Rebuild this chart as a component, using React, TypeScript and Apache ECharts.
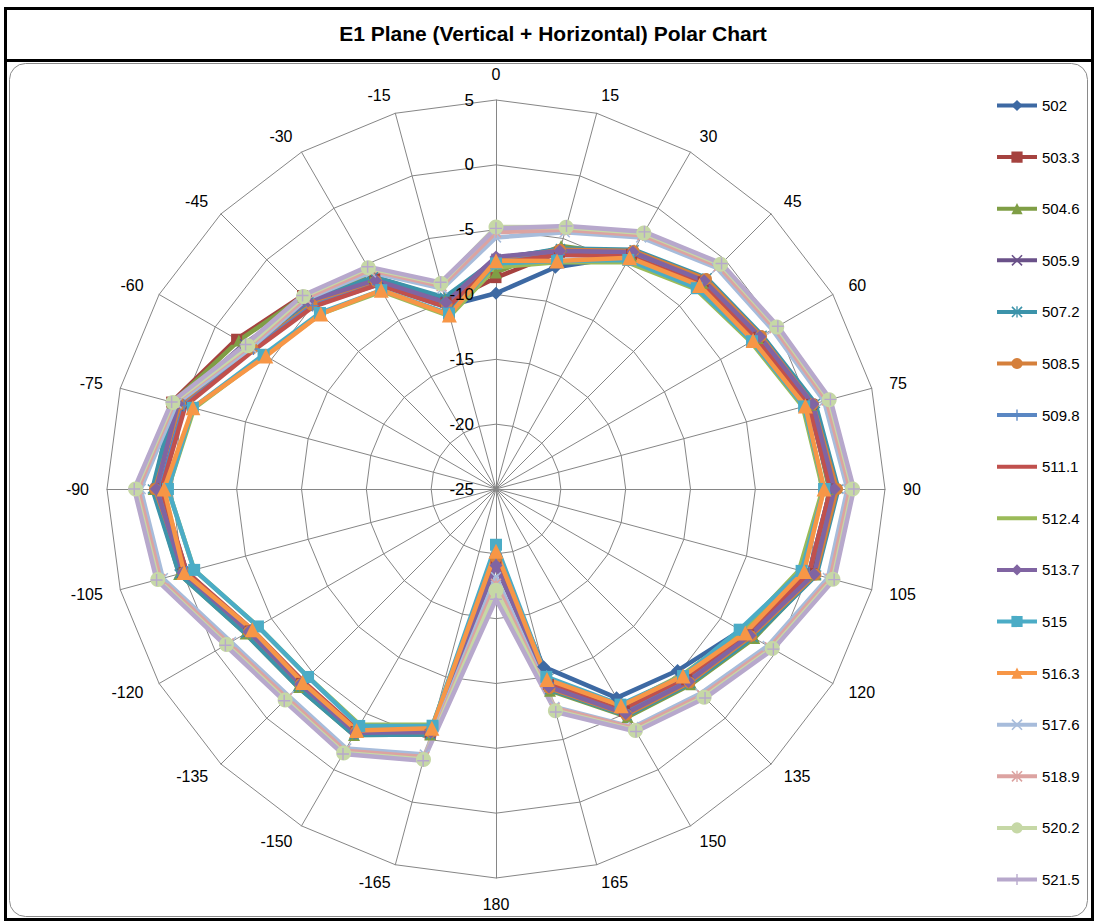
import React, { useEffect, useRef } from 'react';
import * as echarts from 'echarts';

const TITLE = 'E1 Plane (Vertical + Horizontal) Polar Chart';

// Angle labels in clockwise order starting at the top
const ANGLE_LABELS = ['0', '15', '30', '45', '60', '75', '90', '105', '120', '135', '150', '165', '180',
  '-165', '-150', '-135', '-120', '-105', '-90', '-75', '-60', '-45', '-30', '-15'];

const RADIAL_TICKS = [-25, -20, -15, -10, -5, 0, 5];

const SERIES_NAMES = ['502', '503.3', '504.6', '505.9', '507.2', '508.5', '509.8', '511.1',
  '512.4', '513.7', '515', '516.3', '517.6', '518.9', '520.2', '521.5'];

// values per angle, same order as ANGLE_LABELS
const s502 = [-9.9, -7.3, -4.2, -2.6, -1.8, 0.0, 0.8, 0.0, -3.2, -5.2, -6.4, -10.8, -19.8, -5.8, -3.5, -3.9, -3.2, -0.3, 0.9, 0.0, -3.2, -4.9, -6.7, -10.4];
const s503_3 = [-8.7, -6.1, -4.1, -2.4, -1.6, 0.2, 1.0, 0.2, -2.5, -4.2, -5.2, -9.4, -19.6, -5.4, -3.4, -3.8, -3.1, -0.1, 1.2, 0.9, -1.9, -3.9, -6.3, -10.1];
const s504_6 = [-8.3, -5.6, -4.2, -2.5, -1.7, 0.1, 0.7, 0.5, -2.0, -3.7, -4.7, -8.9, -20.0, -5.4, -3.1, -3.4, -2.7, 0.3, 1.4, 0.8, -2.1, -4.0, -6.1, -9.8];
const s505_9 = [-7.2, -5.9, -3.9, -2.2, -1.5, 0.3, 1.2, 0.4, -2.3, -4.0, -5.0, -9.2, -19.4, -5.5, -3.3, -3.6, -2.9, 0.1, 1.3, 0.5, -2.6, -4.4, -6.4, -10.0];
const s507_2 = [-7.3, -5.8, -3.7, -2.0, -1.3, 0.5, 1.4, 0.6, -2.1, -3.8, -4.8, -9.0, -19.5, -5.4, -3.1, -3.4, -2.7, 0.3, 1.5, 0.7, -2.8, -4.6, -6.1, -9.7];
const s508_5 = [-7.4, -5.9, -3.8, -2.1, -1.4, 0.3, 1.3, 0.5, -2.3, -3.9, -4.9, -9.1, -19.7, -5.6, -3.4, -3.7, -3.0, -0.1, 1.3, 0.2, -3.3, -4.9, -6.5, -10.3];
const s509_8 = [-7.5, -6.3, -4.2, -2.6, -1.8, 0.0, 0.8, 0.0, -2.7, -4.3, -5.3, -9.5, -19.9, -5.8, -3.5, -3.9, -3.2, -0.3, 0.9, -0.1, -3.4, -5.0, -6.8, -10.5];
const s511_1 = [-7.6, -6.3, -4.3, -2.6, -1.8, 0.0, 0.8, 0.0, -2.7, -4.4, -5.4, -9.6, -19.9, -5.8, -3.6, -4.0, -3.3, -0.3, 0.8, -0.2, -3.5, -5.1, -6.8, -10.5];
const s512_4 = [-7.9, -6.9, -4.8, -3.2, -2.3, -0.5, 0.2, -0.8, -3.1, -4.7, -5.7, -9.9, -20.3, -6.2, -4.0, -4.5, -3.8, -0.9, 0.3, -0.9, -4.4, -5.9, -7.4, -11.2];
const s513_7 = [-7.1, -6.0, -3.9, -2.3, -1.5, 0.3, 1.1, 0.4, -2.4, -4.0, -5.0, -9.2, -19.1, -5.6, -3.3, -3.7, -3.0, 0.0, 1.2, 0.4, -2.7, -4.5, -6.4, -10.1];
const s515 = [-7.6, -6.8, -4.6, -3.1, -2.2, -0.4, 0.3, -0.6, -3.3, -4.6, -5.8, -10.0, -20.7, -6.1, -3.9, -4.5, -3.8, -0.9, 0.3, -0.8, -4.3, -5.8, -7.3, -11.0];
const s516_3 = [-7.4, -6.8, -4.4, -2.8, -2.1, -0.3, 0.3, -0.4, -2.8, -4.6, -5.7, -9.8, -20.2, -5.9, -3.5, -3.9, -3.3, -0.1, 0.6, -0.8, -4.5, -5.9, -7.3, -11.1];
const s517_6 = [-5.6, -4.5, -2.6, -0.9, -0.4, 1.2, 2.1, 1.5, -0.8, -2.7, -3.8, -7.6, -18.2, -3.8, -1.9, -2.4, -1.4, 1.6, 2.4, 0.5, -3.2, -4.3, -5.7, -9.0];
const s518_9 = [-5.2, -4.3, -2.4, -0.7, -0.2, 1.4, 2.3, 1.7, -0.6, -2.5, -3.7, -7.5, -17.7, -3.6, -1.7, -2.2, -1.2, 1.8, 2.6, 0.7, -3.0, -4.2, -5.5, -8.8];
const s520_2 = [-4.8, -4.1, -2.2, -0.5, 0.0, 1.6, 2.5, 1.9, -0.4, -2.3, -3.5, -7.3, -17.2, -3.4, -1.5, -2.0, -1.0, 2.0, 2.8, 0.8, -2.9, -4.0, -5.3, -8.6];
const s521_5 = [-4.9, -4.0, -2.1, -0.4, 0.1, 1.7, 2.6, 2.0, -0.3, -2.2, -3.4, -7.2, -16.5, -3.3, -1.4, -1.9, -0.9, 2.1, 2.9, 0.9, -2.7, -3.9, -5.2, -8.5];

const SERIES_VALUES = [s502, s503_3, s504_6, s505_9, s507_2, s508_5, s509_8, s511_1,
  s512_4, s513_7, s515, s516_3, s517_6, s518_9, s520_2, s521_5];

const X_PATH = 'path://M1,0L5,4L9,0L10,1L6,5L10,9L9,10L5,6L1,10L0,9L4,5L0,1Z';
const STAR_PATH = 'path://M1,0L5,4L9,0L10,1L6,5L10,9L9,10L5,6L1,10L0,9L4,5L0,1Z M4.4,0L4.4,10L5.6,10L5.6,0Z';
const PLUS_PATH = 'path://M4.4,0H5.6V4.4H10V5.6H5.6V10H4.4V5.6H0V4.4H4.4Z';
// legend marker for series without markers: a thin bar hidden under the legend line,
// with two tiny corner specks that keep the bounding box square
const NO_MARK_PATH = 'path://M0,0L0.02,0L0,0.02Z M0,4.7H10V5.3H0Z M10,10L9.98,10L10,9.98Z';

const STYLES = [
  { color: '#3D69A3', symbol: 'diamond', size: 13 },
  { color: '#A5423F', symbol: 'rect', size: 11 },
  { color: '#7F9E45', symbol: 'triangle', size: 12 },
  { color: '#6A5189', symbol: X_PATH, size: 10 },
  { color: '#3C93AA', symbol: STAR_PATH, size: 10 },
  { color: '#D5803C', symbol: 'circle', size: 12 },
  { color: '#5A87C3', symbol: PLUS_PATH, size: 12 },
  { color: '#C0504D', symbol: 'none', size: 0 },
  { color: '#9BBB59', symbol: 'none', size: 0 },
  { color: '#8064A2', symbol: 'diamond', size: 13 },
  { color: '#4BACC6', symbol: 'rect', size: 12 },
  { color: '#F79646', symbol: 'triangle', size: 15 },
  { color: '#A7BCDB', symbol: X_PATH, size: 11 },
  { color: '#DCA3A1', symbol: STAR_PATH, size: 11 },
  { color: '#C6D8A6', symbol: 'circle', size: 15 },
  { color: '#B7A8CC', symbol: PLUS_PATH, size: 12 },
];

const FONT = '"Liberation Sans", Arial, sans-serif';

export default function App() {
  const ref = useRef<HTMLDivElement>(null);
  useEffect(() => {
    if (!ref.current) return;
    const chart = echarts.init(ref.current, undefined, { renderer: 'svg' });
    // ECharts radar places indicators counter-clockwise; reorder so labels run clockwise
    const order = [0];
    for (let i = ANGLE_LABELS.length - 1; i >= 1; i--) order.push(i);
    const minV = RADIAL_TICKS[0];
    const maxV = RADIAL_TICKS[RADIAL_TICKS.length - 1];
    const radarData = SERIES_NAMES.map((name, k) => ({
      name,
      value: order.map((i) => SERIES_VALUES[k][i]),
      symbol: STYLES[k].symbol,
      symbolSize: STYLES[k].size,
      lineStyle: { color: STYLES[k].color, width: 4.5 },
      itemStyle: { color: STYLES[k].color },
    }));
    const legendSeries = SERIES_NAMES.map((name, k) => ({
      type: 'line',
      name,
      data: [],
      xAxisIndex: 0,
      yAxisIndex: 0,
      symbol: STYLES[k].symbol === 'none' ? NO_MARK_PATH : STYLES[k].symbol,
      symbolSize: STYLES[k].size,
      lineStyle: { color: STYLES[k].color, width: 4 },
      itemStyle: { color: STYLES[k].color },
    }));
    chart.setOption({
      animation: false,
      backgroundColor: '#ffffff',
      graphic: [
        { type: 'rect', shape: { x: 5.5, y: 8.5, width: 1087, height: 911 }, style: { fill: 'none', stroke: '#000', lineWidth: 3 }, z: 0 },
        { type: 'line', shape: { x1: 5, y1: 60.5, x2: 1093, y2: 60.5 }, style: { stroke: '#000', lineWidth: 3 }, z: 0 },
        { type: 'rect', shape: { x: 9.5, y: 63.5, width: 1078, height: 853, r: 16 }, style: { fill: 'none', stroke: '#8a8a8a', lineWidth: 1 }, z: 0 },
        { type: 'text', x: 553, y: 33, style: { text: TITLE, font: `bold 21px ${FONT}`, fill: '#000', textAlign: 'center', textVerticalAlign: 'middle' }, z: 5 },
      ],
      grid: { left: 0, top: 0, width: 1, height: 1, show: false },
      xAxis: { type: 'value', show: false },
      yAxis: { type: 'value', show: false },
      polar: { center: [496, 489], radius: 389 },
      angleAxis: { show: false, startAngle: 90, min: 0, max: 360 },
      radiusAxis: {
        min: minV, max: maxV, interval: 5,
        axisLine: { show: false }, axisTick: { show: false }, splitLine: { show: false },
        axisLabel: { margin: 22, fontSize: 17, color: '#000', fontFamily: FONT },
        z: 10,
      },
      radar: {
        center: [496, 489],
        radius: 389,
        startAngle: 90,
        splitNumber: RADIAL_TICKS.length - 1,
        shape: 'polygon',
        nameGap: 18,
        indicator: order.map((i) => ({ name: ANGLE_LABELS[i], min: minV, max: maxV })),
        axisName: { color: '#000', fontSize: 16, fontFamily: FONT },
        axisLine: { lineStyle: { color: '#868686', width: 1 } },
        splitLine: { lineStyle: { color: '#868686', width: 1 } },
        splitArea: { show: false },
        axisTick: { show: false },
        axisLabel: { show: false },
      },
      legend: {
        orient: 'vertical',
        left: 995,
        top: 98,
        padding: 0,
        itemWidth: 40,
        itemHeight: 14,
        itemGap: 36.6,
        data: SERIES_NAMES,
        lineStyle: { width: 4 },
        textStyle: { fontSize: 15, color: '#000', fontFamily: FONT },
      },
      series: [
        { type: 'radar', name: 'radar', data: radarData, z: 3 },
        ...legendSeries,
      ],
    });
    return () => chart.dispose();
  }, []);
  return <div ref={ref} style={{ position: 'absolute', left: 0, top: 0, width: 1099, height: 921 }} />;
}
